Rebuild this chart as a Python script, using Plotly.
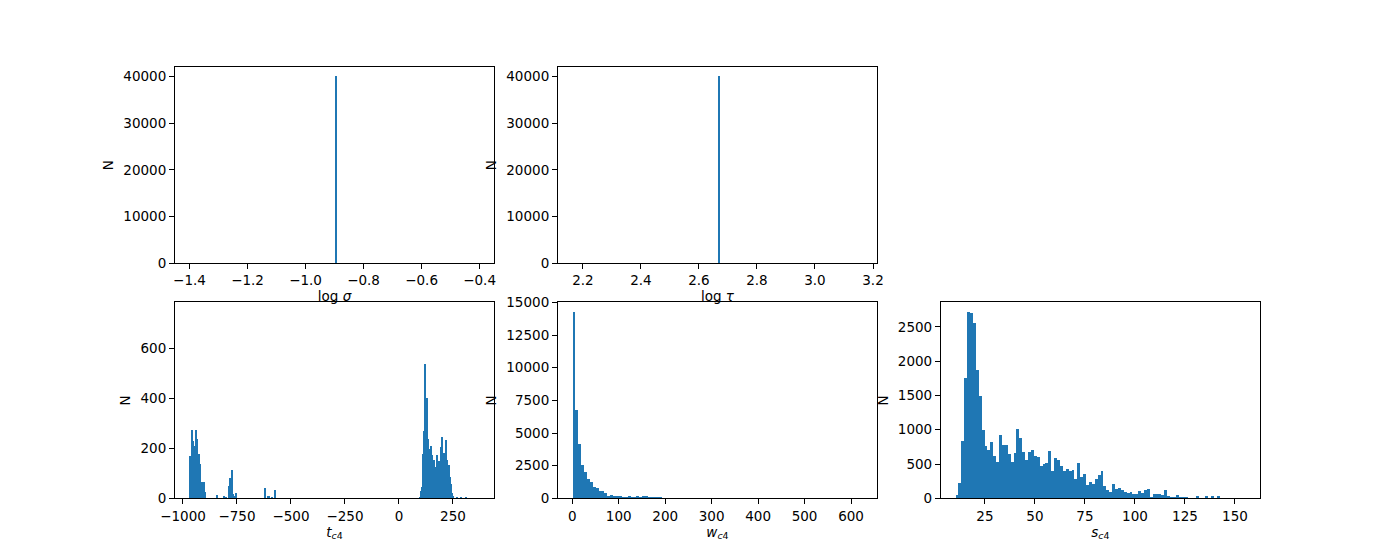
import numpy as np
import plotly.graph_objects as go

# ---------------- data ----------------
# top panels: all 40000 samples fall in one bin
log_sigma_value = -0.90
log_sigma_count = 40000
log_tau_value = 2.664
log_tau_count = 40000
single_bin_width = 0.01

# t_c4 : non-empty bins (bin centre, count), bin width below
tc4_bin_width = 4.65
tc4_centers = [-967.7, -963.0, -958.4, -953.7, -949.1, -944.5, -939.8, -935.2, -930.5, -925.9,
               -921.2, -916.6, -911.9, -907.3, -902.6, -898.0,
               -842.2, -809.6, -800.3, -786.4, -781.7, -777.1, -772.4, -767.8, -763.1, -753.8,
               -619.0, -605.0, -600.4, -586.4, -572.4,
               97.2, 101.8, 106.5, 111.1, 115.8, 120.4, 125.1, 129.7, 134.4, 139.0,
               143.7, 148.3, 153.0, 157.6, 162.3, 166.9, 171.6, 176.2, 180.9, 185.5,
               190.2, 194.8, 199.5, 204.1, 208.8, 213.4, 218.1, 222.7, 227.4, 232.0,
               236.7, 241.3, 246.0, 250.6, 269.2, 287.8, 311.1]
tc4_counts = [168, 140, 272, 228, 164, 208, 272, 236, 128, 176,
              136, 64, 64, 60, 64, 24,
              12, 8, 4, 48, 80, 68, 112, 16, 8, 20,
              40, 8, 8, 4, 32,
              4, 28, 44, 176, 268, 536, 332, 400, 236, 196,
              156, 208, 172, 96, 152, 124, 96, 172, 148, 88,
              148, 204, 244, 172, 180, 140, 232, 152, 88, 132,
              84, 56, 20, 8, 4, 4, 4]

# w_c4 : 100 bins
wc4_min, wc4_max = 0.4, 624.8
wc4_counts = [14250, 6720, 4100, 2560, 2020, 1490, 1250, 870, 790, 560,
              560, 410, 180, 250, 100, 100, 100, 30, 30, 100,
              30, 30, 100, 30, 100, 100, 30, 25, 25, 25,
              25, 0, 0, 0, 0, 0, 0, 0, 0, 0,
              0, 0, 0, 0, 0, 0, 0, 0, 0, 0,
              0, 0, 0, 0, 0, 0, 0, 0, 0, 0,
              0, 0, 0, 0, 0, 0, 0, 0, 0, 0,
              0, 0, 0, 0, 0, 0, 0, 0, 0, 0,
              0, 0, 0, 0, 0, 0, 0, 0, 0, 0,
              0, 0, 0, 0, 0, 0, 0, 0, 0, 0]

# s_c4 : 100 bins
sc4_min, sc4_max = 10.25, 155.25
sc4_counts = [40, 214, 829, 1750, 2715, 2700, 2554, 1867, 1487, 990,
              756, 697, 814, 610, 522, 917, 770, 770, 639, 522,
              653, 1004, 873, 668, 551, 668, 697, 610, 595, 463,
              492, 507, 683, 390, 580, 551, 463, 390, 420, 390,
              405, 273, 507, 303, 346, 186, 230, 200, 273, 332,
              390, 171, 113, 83, 200, 127, 142, 113, 83, 69,
              83, 54, 54, 98, 69, 113, 127, 10, 54, 54,
              54, 39, 113, 25, 10, 10, 39, 10, 10, 10,
              0, 0, 0, 15, 0, 0, 30, 0, 20, 0,
              20, 0, 0, 0, 0, 0, 0, 0, 0, 0]

# ---------------- figure ----------------
BLUE = "#1f77b4"
FONT = "DejaVu Sans"
FS = 13.5
PAGE_W, PAGE_H, OFF = 1400, 560, 8
W, H = PAGE_W - 2 * OFF, PAGE_H - 2 * OFF

fig = go.Figure()

def centers(lo, hi, n):
    e = np.linspace(lo, hi, n + 1)
    return (e[:-1] + e[1:]) / 2, (hi - lo) / n

# panel 1
fig.add_trace(go.Bar(x=[log_sigma_value + single_bin_width / 2], y=[log_sigma_count],
                     width=single_bin_width, marker=dict(color=BLUE, line=dict(width=0)),
                     xaxis="x", yaxis="y"))
# panel 2
fig.add_trace(go.Bar(x=[log_tau_value + single_bin_width / 2], y=[log_tau_count],
                     width=single_bin_width, marker=dict(color=BLUE, line=dict(width=0)),
                     xaxis="x2", yaxis="y2"))
# panel 4
fig.add_trace(go.Bar(x=tc4_centers, y=tc4_counts, width=tc4_bin_width,
                     marker=dict(color=BLUE, line=dict(width=0)),
                     xaxis="x4", yaxis="y4"))
# panel 5
wc, ww = centers(wc4_min, wc4_max, len(wc4_counts))
fig.add_trace(go.Bar(x=wc, y=wc4_counts, width=ww,
                     marker=dict(color=BLUE, line=dict(width=0)),
                     xaxis="x5", yaxis="y5"))
# panel 6
sc, sw = centers(sc4_min, sc4_max, len(sc4_counts))
fig.add_trace(go.Bar(x=sc, y=sc4_counts, width=sw,
                     marker=dict(color=BLUE, line=dict(width=0)),
                     xaxis="x6", yaxis="y6"))

# matplotlib-like grid in page pixels
cw = 0.775 / 3.4 * PAGE_W
cg = 0.2 * cw
col_px = [(0.125 * PAGE_W + i * (cw + cg), 0.125 * PAGE_W + i * (cw + cg) + cw) for i in range(3)]
rh = 0.77 / 2.2 * PAGE_H
row_px = [(0.12 * PAGE_H, 0.12 * PAGE_H + rh), (0.89 * PAGE_H - rh, 0.89 * PAGE_H)]

def xdom(c):
    a, b = col_px[c]
    return [(a - OFF) / W, (b - OFF) / W]

def ydom(r):
    top, bot = row_px[r]
    return [1 - (bot - OFF) / H, 1 - (top - OFF) / H]

def axstyle(**kw):
    d = dict(showline=True, linecolor="black", linewidth=1, mirror=True,
             ticks="outside", ticklen=5, tickwidth=1, tickcolor="black",
             showgrid=False, zeroline=False, automargin=False,
             tickfont=dict(family=FONT, size=FS, color="black"))
    d.update(kw)
    return d

def title(t, standoff):
    return dict(text=t, font=dict(family=FONT, size=FS, color="black"), standoff=standoff)

layout = dict(
    width=W, height=H, margin=dict(l=0, r=0, t=0, b=0, autoexpand=False),
    paper_bgcolor="white", plot_bgcolor="white", showlegend=False, bargap=0,
    font=dict(family=FONT, size=FS, color="black"),
)

specs = {
    "": dict(col=0, row=0, xr=[-1.45, -0.35], xt=[-1.4, -1.2, -1.0, -0.8, -0.6, -0.4], xf=".1f",
             yr=[0, 42000], yt=[0, 10000, 20000, 30000, 40000], xl="log <i>σ</i>"),
    "2": dict(col=1, row=0, xr=[2.114, 3.214], xt=[2.2, 2.4, 2.6, 2.8, 3.0, 3.2], xf=".1f",
              yr=[0, 42000], yt=[0, 10000, 20000, 30000, 40000], xl="log <i>τ</i>"),
    "4": dict(col=0, row=1, xr=[-1037, 440.5], xt=[-1000, -750, -500, -250, 0, 250], xf="d",
              yr=[0, 784], yt=[0, 200, 400, 600], xl="<i>t</i><sub><i>c</i>4</sub>"),
    "5": dict(col=1, row=1, xr=[-30.8, 656.0], xt=[0, 100, 200, 300, 400, 500, 600], xf="d",
              yr=[0, 15000], yt=[0, 2500, 5000, 7500, 10000, 12500, 15000], xl="<i>w</i><sub><i>c</i>4</sub>"),
    "6": dict(col=2, row=1, xr=[3.0, 162.5], xt=[25, 50, 75, 100, 125, 150], xf="d",
              yr=[0, 2855], yt=[0, 500, 1000, 1500, 2000, 2500], xl="<i>s</i><sub><i>c</i>4</sub>"),
}

for k, s in specs.items():
    layout["xaxis" + k] = axstyle(domain=xdom(s["col"]), anchor="y" + k, range=s["xr"],
                                  tickmode="array", tickvals=s["xt"], tickformat=s["xf"],
                                  title=title(s["xl"], 2))
    layout["yaxis" + k] = axstyle(domain=ydom(s["row"]), anchor="x" + k, range=s["yr"],
                                  tickmode="array", tickvals=s["yt"], tickformat="d",
                                  title=title("N", 6))

fig.update_layout(**layout)
fig.write_html("out.html")
